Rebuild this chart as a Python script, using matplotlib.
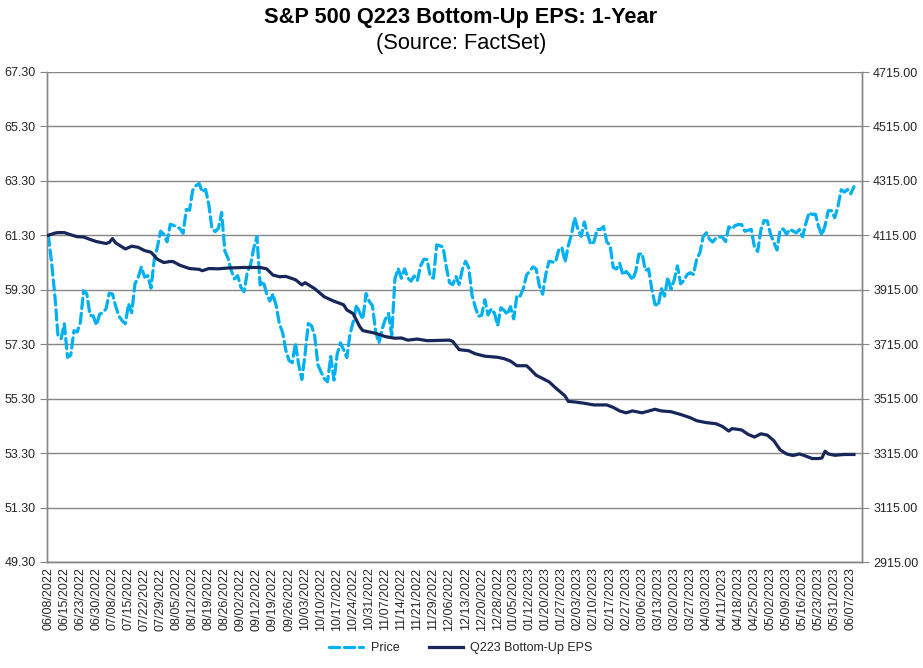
import matplotlib
matplotlib.use("Agg")
import matplotlib.pyplot as plt
from matplotlib.lines import Line2D
import numpy as np

plt.rcParams['font.family'] = ['Liberation Sans', 'DejaVu Sans']

# S&P 500 daily price, 06/08/2022 .. 06/08/2023 (trading days)
price = [
    # Jun 2022
    4115.77, 4017.82, 3900.86, 3749.63, 3735.48, 3789.99, 3666.77, 3674.84, 3764.79, 3759.89,
    3795.73, 3911.74, 3900.11, 3821.55, 3818.83, 3785.38,
    # Jul
    3825.33, 3831.39, 3845.08, 3902.62, 3899.38, 3854.43, 3818.80, 3801.78, 3790.38, 3863.16,
    3830.85, 3936.69, 3959.90, 3998.95, 3961.63, 3966.84, 3921.05, 4023.61, 4072.43, 4130.29,
    # Aug
    4118.63, 4091.19, 4155.17, 4151.94, 4145.19, 4140.06, 4122.47, 4210.24, 4207.27, 4280.15,
    4297.14, 4305.20, 4274.04, 4283.74, 4228.48, 4137.99, 4128.73, 4140.77, 4199.12, 4057.66,
    4030.61, 3986.16, 3955.00,
    # Sep
    3966.85, 3924.26, 3908.19, 3979.87, 4006.18, 4067.36, 4110.41, 3932.69, 3946.01, 3901.35,
    3873.33, 3899.89, 3855.93, 3789.93, 3757.99, 3693.23, 3655.04, 3647.29, 3719.04, 3640.47,
    3585.62,
    # Oct
    3678.43, 3790.93, 3783.28, 3744.52, 3639.66, 3612.39, 3588.84, 3577.03, 3669.91, 3583.07,
    3677.95, 3719.98, 3695.16, 3665.78, 3752.75, 3797.34, 3859.11, 3830.60, 3807.30, 3901.06,
    3871.98,
    # Nov
    3856.10, 3759.69, 3719.89, 3770.55, 3806.80, 3828.11, 3748.57, 3956.37, 3992.93, 3957.25,
    3991.73, 3958.79, 3946.56, 3965.34, 3949.94, 4003.58, 4027.26, 4026.12, 3963.94, 3957.63,
    4080.11,
    # Dec
    4076.57, 4071.70, 3998.84, 3941.26, 3933.92, 3963.51, 3934.38, 3990.56, 4019.65, 3995.32,
    3895.75, 3852.36, 3817.66, 3821.62, 3878.44, 3822.39, 3844.82, 3829.25, 3783.22, 3849.28,
    3839.50,
    # Jan 2023
    3824.14, 3852.97, 3808.10, 3895.08, 3892.09, 3919.25, 3969.61, 3983.17, 3999.09, 3990.97,
    3928.86, 3898.85, 3972.61, 4019.81, 4016.95, 4016.22, 4060.43, 4070.56, 4017.77, 4076.60,
    # Feb
    4119.21, 4179.76, 4136.48, 4111.08, 4164.00, 4117.86, 4081.50, 4090.46, 4137.29, 4136.13,
    4147.60, 4090.41, 4079.09, 3997.34, 3991.05, 4012.32, 3970.04, 3982.24, 3970.15,
    # Mar
    3951.39, 3981.35, 4045.64, 4048.42, 3986.37, 3992.01, 3918.32, 3861.59, 3855.76, 3919.29,
    3891.93, 3960.28, 3916.64, 3951.57, 4002.87, 3936.97, 3948.72, 3970.99, 3977.53, 3971.27,
    4027.81, 4050.83, 4109.31,
    # Apr
    4124.51, 4100.60, 4090.38, 4105.02, 4109.11, 4108.94, 4091.95, 4146.22, 4137.64, 4151.32,
    4154.87, 4154.52, 4129.79, 4133.52, 4137.04, 4071.63, 4055.99, 4135.35, 4169.48,
    # May
    4167.87, 4119.58, 4090.75, 4061.22, 4136.25, 4138.12, 4119.17, 4137.64, 4130.62, 4124.08,
    4136.28, 4109.90, 4158.77, 4198.05, 4191.98, 4192.63, 4145.58, 4115.24, 4151.28, 4205.45,
    4205.52, 4179.83,
    # Jun
    4221.02, 4282.37, 4273.79, 4283.85, 4267.52, 4293.93,
]

# Q223 bottom-up EPS, read at these trading-day positions
eps_day = [0, 2, 3, 5, 7, 9, 11, 13, 15, 18, 19, 20, 21, 24, 26, 28, 30, 32, 34, 36,
           38, 39, 41, 44, 47, 48, 50, 53, 56, 61, 66, 68, 70, 72, 74, 77, 79, 80, 83, 86,
           89, 92, 93, 95, 97, 98, 102, 105, 108, 110, 112, 115, 118, 125, 126, 128, 131, 133, 136, 140,
           142, 144, 146, 149, 150, 152, 154, 156, 158, 160, 161, 162, 164, 167, 170, 174, 176, 178, 180, 182,
           185, 189, 191, 194, 197, 200, 202, 205, 208, 210, 212, 213, 215, 216, 218, 220, 222, 224, 226, 228,
           230, 232, 234, 236, 238, 240, 241, 242, 243, 245, 248, 251]
eps = [61.30, 61.38, 61.40, 61.40, 61.32, 61.25, 61.24, 61.15, 61.07, 61.00, 61.04, 61.18, 61.02, 60.80, 60.90, 60.86, 60.74, 60.68, 60.42, 60.30,
       60.34, 60.33, 60.20, 60.08, 60.05, 60.00, 60.08, 60.07, 60.10, 60.12, 60.12, 60.07, 59.84, 59.78, 59.79, 59.67, 59.48, 59.56, 59.34, 59.04,
       58.88, 58.75, 58.56, 58.42, 57.95, 57.80, 57.70, 57.58, 57.52, 57.53, 57.45, 57.49, 57.43, 57.45, 57.40, 57.10, 57.06, 56.95, 56.86, 56.82,
       56.77, 56.68, 56.51, 56.51, 56.40, 56.16, 56.04, 55.92, 55.70, 55.50, 55.40, 55.20, 55.18, 55.13, 55.07, 55.07, 54.98, 54.85, 54.78, 54.85,
       54.78, 54.91, 54.85, 54.82, 54.72, 54.60, 54.49, 54.42, 54.38, 54.28, 54.11, 54.20, 54.17, 54.15, 53.99, 53.89, 54.01, 53.96, 53.76, 53.42,
       53.27, 53.21, 53.27, 53.19, 53.10, 53.10, 53.12, 53.37, 53.27, 53.22, 53.25, 53.25]

tick_labels = ["06/08/2022", "06/15/2022", "06/23/2022", "06/30/2022", "07/08/2022", "07/15/2022",
               "07/22/2022", "07/29/2022", "08/05/2022", "08/12/2022", "08/19/2022", "08/26/2022",
               "09/02/2022", "09/12/2022", "09/19/2022", "09/26/2022", "10/03/2022", "10/10/2022",
               "10/17/2022", "10/24/2022", "10/31/2022", "11/07/2022", "11/14/2022", "11/21/2022",
               "11/29/2022", "12/06/2022", "12/13/2022", "12/20/2022", "12/28/2022", "01/05/2023",
               "01/12/2023", "01/20/2023", "01/27/2023", "02/03/2023", "02/10/2023", "02/17/2023",
               "02/27/2023", "03/06/2023", "03/13/2023", "03/20/2023", "03/27/2023", "04/03/2023",
               "04/11/2023", "04/18/2023", "04/25/2023", "05/02/2023", "05/09/2023", "05/16/2023",
               "05/23/2023", "05/31/2023", "06/07/2023"]
tick_every = 5

eps_ticks = ["49.30", "51.30", "53.30", "55.30", "57.30", "59.30", "61.30", "63.30", "65.30", "67.30"]
price_ticks = ["2915.00", "3115.00", "3315.00", "3515.00", "3715.00", "3915.00", "4115.00", "4315.00", "4515.00", "4715.00"]

PRICE_C = '#00B0F0'
EPS_C = '#17275A'
GRID_C = '#868686'
TXT_C = '#262626'

W, H = 923, 668
fig = plt.figure(figsize=(W / 100, H / 100), dpi=100)
L, R, T, B = 47, 862, 72, 562
ax = fig.add_axes([L / W, 1 - B / H, (R - L) / W, (B - T) / H])
ax2 = ax.twinx()

x_price = np.arange(len(price))
ax2.plot(x_price, price, color=PRICE_C, lw=2.3, dashes=[3.2, 1.5],
         dash_capstyle='round', solid_capstyle='round', label='Price', zorder=3)
ax.plot(eps_day, eps, color=EPS_C, lw=2.3, solid_joinstyle='round',
        label='Q223 Bottom-Up EPS', zorder=3)

ax.set_zorder(ax2.get_zorder() + 1)
ax.patch.set_visible(False)

ev = [float(v) for v in eps_ticks]
pv = [float(v) for v in price_ticks]
ax.set_ylim(ev[0], ev[-1])
ax2.set_ylim(pv[0], pv[-1])
ax.set_yticks(ev)
ax.set_yticklabels(eps_ticks)
ax2.set_yticks(pv)
ax2.set_yticklabels(price_ticks)
ax2.yaxis.grid(True, color=GRID_C, lw=1.0)
ax2.set_axisbelow(True)

ax.set_xlim(-0.4, 253.5)
ax.set_xticks(np.arange(len(tick_labels)) * tick_every)
ax.set_xticklabels(tick_labels, rotation=90)

for a in (ax, ax2):
    for s in a.spines.values():
        s.set_color(GRID_C)
        s.set_linewidth(1.0)
    a.spines['top'].set_visible(False)
    a.tick_params(axis='both', labelsize=9, labelcolor=TXT_C, color=GRID_C)
ax.tick_params(axis='x', length=0, pad=4)
ax.tick_params(axis='y', length=5, pad=3)
ax2.tick_params(axis='y', length=5, pad=3)

fig.text(461 / W, 1 - 18 / H, "S&P 500 Q223 Bottom-Up EPS: 1-Year", ha='center', va='center',
         fontsize=15.7, fontweight='bold', color='black')
fig.text(461 / W, 1 - 43 / H, "(Source: FactSet)", ha='center', va='center',
         fontsize=15.7, color='black')

handles = [Line2D([], [], color=PRICE_C, lw=2.3, dashes=[3.2, 1.5], dash_capstyle='round'),
           Line2D([], [], color=EPS_C, lw=2.3)]
fig.legend(handles, ['Price', 'Q223 Bottom-Up EPS'], loc='center',
           bbox_to_anchor=(461 / W, 1 - 648 / H), ncol=2, frameon=False, fontsize=9,
           handlelength=2.7, columnspacing=2.4, handletextpad=0.6, labelcolor=TXT_C)

fig.savefig('out.png', dpi=100)
